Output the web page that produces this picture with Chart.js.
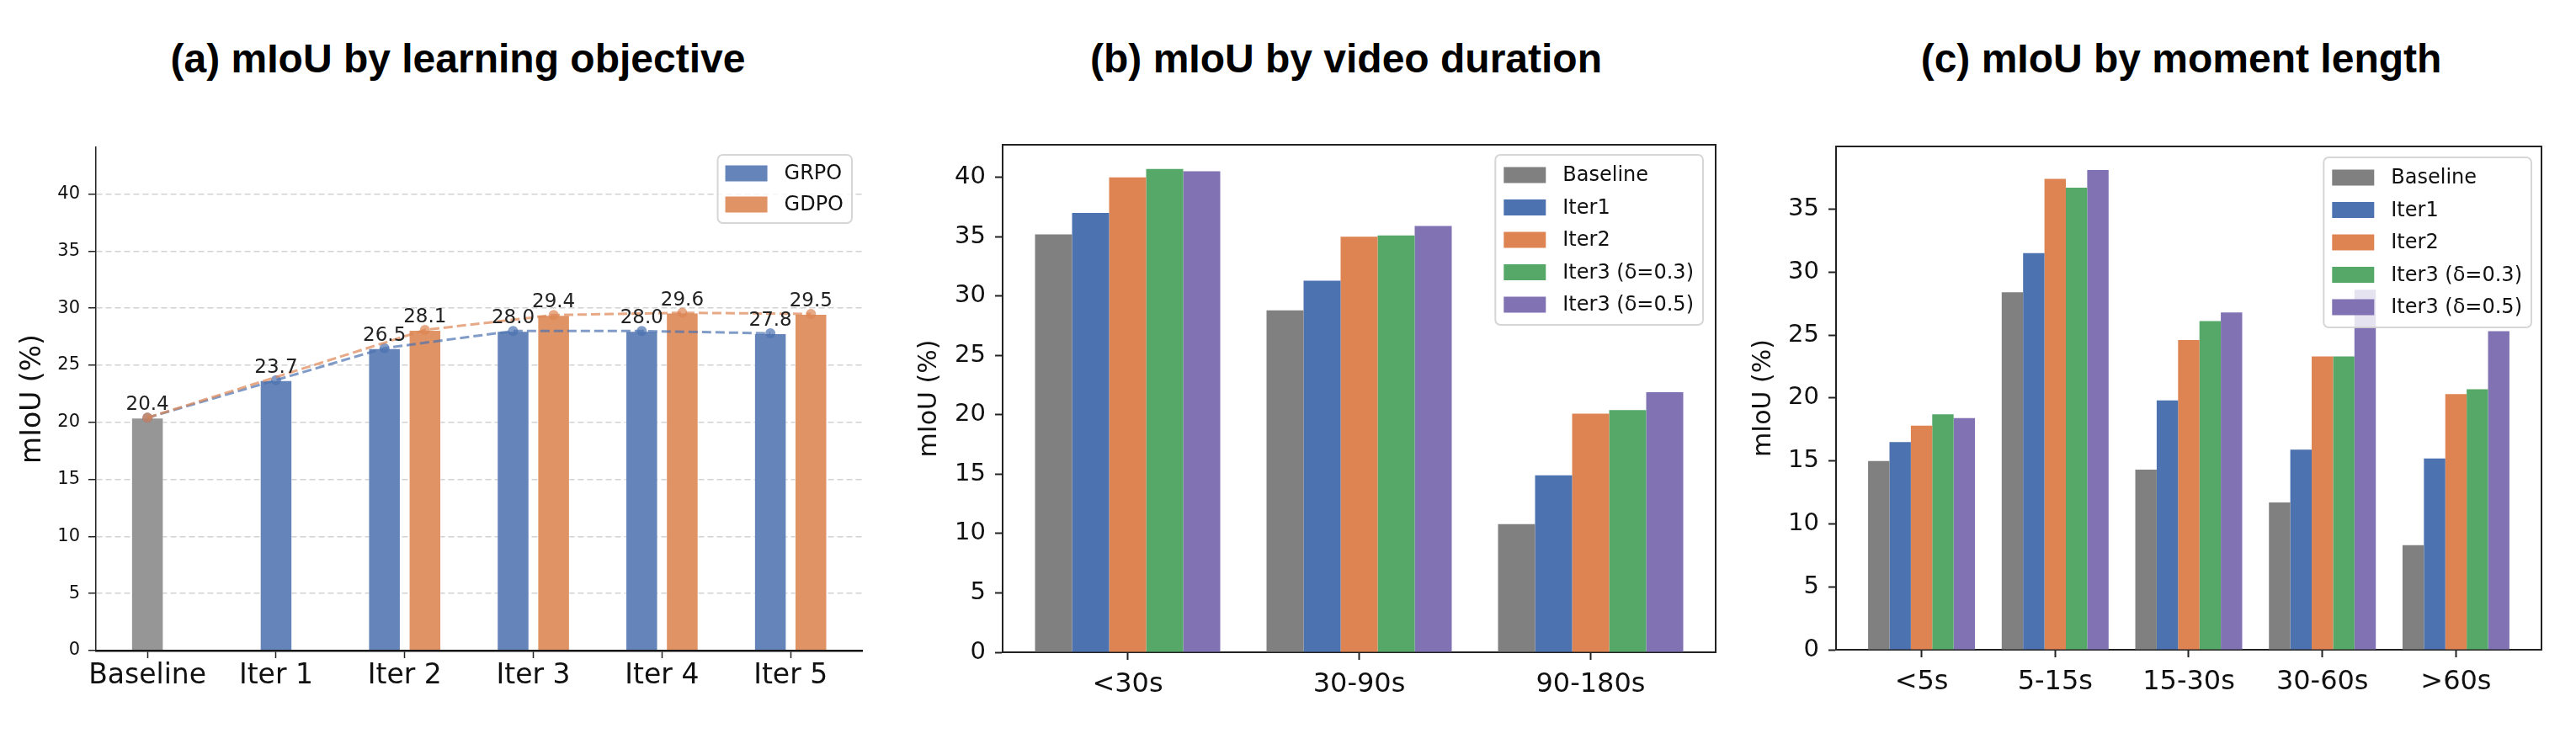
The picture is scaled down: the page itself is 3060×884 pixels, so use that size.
<!DOCTYPE html>
<html>
<head>
<meta charset="utf-8">
<title>mIoU panels</title>
<script src="https://cdn.jsdelivr.net/npm/chart.js@4.4.0/dist/chart.umd.min.js"></script>
<style>
  html, body { margin: 0; padding: 0; background: #fff; }
  body { width: 3060px; height: 884px; position: relative; overflow: hidden; }
  canvas { position: absolute; top: 0; }
  .panel-title {
    position: absolute; top: 46px; width: 900px; text-align: center;
    font: bold 48px "Liberation Sans", Arial, sans-serif; line-height: 48px;
    color: #000; white-space: nowrap;
  }
</style>
</head>
<body>
<div class="panel-title" style="left:94px">(a) mIoU by learning objective</div>
<div class="panel-title" style="left:1149px">(b) mIoU by video duration</div>
<div class="panel-title" style="left:2141px">(c) mIoU by moment length</div>
<canvas id="chart-objective" width="1040" height="884" style="left:0"></canvas>
<canvas id="chart-duration" width="1010" height="884" style="left:1050px"></canvas>
<canvas id="chart-moment" width="1000" height="884" style="left:2060px"></canvas>

<script>
// ===============================
// Data — (a) learning objective
// ===============================
const objectiveLabels = ["Baseline", "Iter 1", "Iter 2", "Iter 3", "Iter 4", "Iter 5"];
const baselineScore = [20.4, null, null, null, null, null];
const grpoScores = [null, 23.7, 26.5, 28.0, 28.0, 27.8];
const gdpoScores = [null, null, 28.1, 29.4, 29.6, 29.5];
const objectiveTicks = [0, 5, 10, 15, 20, 25, 30, 35, 40];

// ===============================
// Data — (b) video duration
// ===============================
const durationLabels = ["<30s", "30-90s", "90-180s"];
const durationBaseline = [35.2, 28.8, 10.8];
const durationIter1 = [37.0, 31.3, 14.9];
const durationIter2 = [40.0, 35.0, 20.1];
const durationIter3a = [40.7, 35.1, 20.4];
const durationIter3b = [40.5, 35.9, 21.9];
const durationTicks = [0, 5, 10, 15, 20, 25, 30, 35, 40];

// ===============================
// Data — (c) moment length
// ===============================
const momentLabels = ["<5s", "5-15s", "15-30s", "30-60s", ">60s"];
const momentBaseline = [15.0, 28.4, 14.3, 11.7, 8.3];
const momentIter1 = [16.5, 31.5, 19.8, 15.9, 15.2];
const momentIter2 = [17.8, 37.4, 24.6, 23.3, 20.3];
const momentIter3a = [18.7, 36.7, 26.1, 23.3, 20.7];
const momentIter3b = [18.4, 38.1, 26.8, 28.6, 25.3];
const momentTicks = [0, 5, 10, 15, 20, 25, 30, 35];

const seriesNames = ["Baseline", "Iter1", "Iter2", "Iter3 (δ=0.3)", "Iter3 (δ=0.5)"];
const seriesColors = ["#808080", "#4c72b0", "#dd8452", "#55a868", "#8172b3"];

// share of a category used by the GRPO/GDPO pair in (a)
const PAIR_GROUP = 0.63;
// share of a category used by the 5 grouped bars in (b) and (c)
const GROUP_SPAN = 0.8;

Chart.defaults.font.family = "'DejaVu Sans', sans-serif";
Chart.defaults.color = "#111";

// ===============================
// Plugins
// ===============================

// value text above every bar (panel a)
const valueLabels = {
  id: "valueLabels",
  afterDatasetsDraw(chart, args, opts) {
    const { ctx } = chart;
    ctx.save();
    ctx.font = `${opts.size}px 'DejaVu Sans'`;
    ctx.fillStyle = "#222";
    ctx.textAlign = "center";
    ctx.textBaseline = "alphabetic";
    chart.data.datasets.forEach((ds, i) => {
      if (!ds.showValues) return;
      const meta = chart.getDatasetMeta(i);
      meta.data.forEach((el, j) => {
        const v = ds.data[j];
        if (v == null) return;
        ctx.fillText(v.toFixed(1), el.x, el.y - opts.lift);
      });
    });
    ctx.restore();
  }
};

// matplotlib-like framed legend in the upper right corner
const boxLegend = {
  id: "boxLegend",
  afterDraw(chart, args, opts) {
    const { ctx, chartArea } = chart;
    const items = chart.data.datasets.filter(ds => ds.type !== "line" && ds.inLegend !== false);
    ctx.save();
    ctx.font = `${opts.size}px 'DejaVu Sans'`;
    const textW = Math.max(...items.map(ds => ctx.measureText(ds.label).width));
    const w = opts.padX + opts.swatchW + opts.gap + textW + opts.padRight;
    const h = opts.padY * 2 + items.length * opts.rowH;
    const x = chartArea.right - opts.inset[0] - w;
    const y = chartArea.top + opts.inset[1];

    ctx.beginPath();
    if (ctx.roundRect) ctx.roundRect(x, y, w, h, 6);
    else ctx.rect(x, y, w, h);
    ctx.fillStyle = "rgba(255,255,255,0.8)";
    ctx.fill();
    ctx.lineWidth = 2;
    ctx.strokeStyle = "rgba(210,210,210,0.9)";
    ctx.stroke();

    ctx.textAlign = "left";
    ctx.textBaseline = "middle";
    items.forEach((ds, i) => {
      const cy = y + opts.padY + opts.rowH * (i + 0.5);
      ctx.fillStyle = ds.backgroundColor;
      ctx.fillRect(x + opts.padX, cy - opts.swatchH / 2, opts.swatchW, opts.swatchH);
      ctx.fillStyle = "#111";
      ctx.fillText(ds.label, x + opts.padX + opts.swatchW + opts.gap, cy + 1);
    });
    ctx.restore();
  }
};

// top and right spines for (b) and (c)
const frameBox = {
  id: "frameBox",
  afterDraw(chart) {
    const { ctx, chartArea: a } = chart;
    ctx.save();
    ctx.strokeStyle = "#222";
    ctx.lineWidth = 2;
    ctx.beginPath();
    ctx.moveTo(a.left, a.top);
    ctx.lineTo(a.right, a.top);
    ctx.lineTo(a.right, a.bottom);
    ctx.stroke();
    ctx.restore();
  }
};

// matplotlib default 5% margin around bars spanning [-span/2, n-1+span/2]
function paddedRange(n, span) {
  const lo = -span / 2;
  const hi = n - 1 + span / 2;
  const m = 0.05 * (hi - lo);
  return [lo - m, hi + m];
}

const baseOptions = {
  responsive: false,
  animation: false,
  devicePixelRatio: 1,
  events: []
};

// ===============================
// (a) mIoU by learning objective
// ===============================
function buildObjectiveChart() {
  const shift = PAIR_GROUP / 4;
  const trend = (scores, side) => {
    const pts = [{ x: 0, y: baselineScore[0] }];
    scores.forEach((v, i) => {
      if (v == null) return;
      const paired = grpoScores[i] != null && gdpoScores[i] != null;
      pts.push({ x: i + (paired ? side * shift : 0), y: v });
    });
    return pts;
  };

  return new Chart(document.getElementById("chart-objective"), {
    type: "bar",
    data: {
      labels: objectiveLabels.map((_, i) => i),
      datasets: [
        { label: "Baseline", data: baselineScore, backgroundColor: "#969696", inLegend: false, showValues: true, order: 3 },
        { label: "GRPO", data: grpoScores, backgroundColor: "#6584b9", showValues: true, order: 3 },
        { label: "GDPO", data: gdpoScores, backgroundColor: "#e09365", showValues: true, order: 3 },
        {
          type: "line", label: "GRPO trend", data: trend(grpoScores, -1), order: 2,
          borderColor: "rgba(76,114,176,0.7)", borderWidth: 3, borderDash: [11, 5],
          pointRadius: 6, pointBorderWidth: 0, pointBackgroundColor: "rgba(76,114,176,0.7)",
          fill: false, tension: 0
        },
        {
          type: "line", label: "GDPO trend", data: trend(gdpoScores, 1), order: 1,
          borderColor: "rgba(221,132,82,0.7)", borderWidth: 3, borderDash: [11, 5],
          pointRadius: 6, pointBorderWidth: 0, pointBackgroundColor: "rgba(221,132,82,0.7)",
          fill: false, tension: 0
        }
      ]
    },
    options: {
      ...baseOptions,
      layout: { padding: { top: 175, right: 16, left: 0, bottom: 0 } },
      datasets: {
        bar: {
          categoryPercentage: PAIR_GROUP, barPercentage: 0.8, maxBarThickness: 38.5,
          skipNull: true, borderWidth: 1, borderColor: "rgba(255,255,255,0.5)", borderSkipped: "bottom"
        }
      },
      scales: {
        x: {
          type: "linear", min: -0.4, max: 5.555, offset: false, z: 1,
          afterBuildTicks: s => { s.ticks = objectiveLabels.map((_, i) => ({ value: i })); },
          afterFit: s => { s.height = 111; },
          ticks: { callback: v => objectiveLabels[v], font: { size: 33 }, padding: 2, autoSkip: false, maxRotation: 0 },
          grid: { offset: false, drawOnChartArea: false, drawTicks: true, tickLength: 9, tickWidth: 1.5, tickColor: "#222", color: "#222" },
          border: { display: true, color: "#111", width: 2.5 }
        },
        y: {
          min: 0, max: 44.1,
          afterBuildTicks: s => { s.ticks = objectiveTicks.map(v => ({ value: v })); },
          afterFit: s => { s.width = 114; },
          ticks: { font: { size: 21 }, padding: 10 },
          grid: { color: "#d2d2d2", lineWidth: 1.5, tickLength: 9, tickWidth: 1.5, tickColor: "#222", tickBorderDash: [] },
          border: { display: true, color: "#222", width: 1.5, dash: [7, 4] },
          title: { display: true, text: "mIoU (%)", font: { size: 33 }, padding: { top: 20, bottom: 0 } }
        }
      },
      plugins: {
        legend: { display: false },
        tooltip: { enabled: false },
        valueLabels: { size: 23, lift: 9 },
        boxLegend: { size: 24, inset: [12, 9], padX: 9, padRight: 10, padY: 3.5, rowH: 37, swatchW: 50, swatchH: 19, gap: 20 }
      }
    },
    plugins: [valueLabels, boxLegend]
  });
}

// ===============================
// (b) and (c): five grouped series
// ===============================
function buildGroupedChart(canvasId, categories, series, cfg) {
  const [xMin, xMax] = paddedRange(categories.length, GROUP_SPAN);
  return new Chart(document.getElementById(canvasId), {
    type: "bar",
    data: {
      labels: categories.map((_, i) => i),
      datasets: series.map((values, k) => ({
        label: seriesNames[k], data: values, backgroundColor: seriesColors[k], borderWidth: 0
      }))
    },
    options: {
      ...baseOptions,
      layout: { padding: { top: cfg.top, right: cfg.right, left: 0, bottom: 0 } },
      datasets: { bar: { categoryPercentage: GROUP_SPAN, barPercentage: 1 } },
      scales: {
        x: {
          type: "linear", min: xMin, max: xMax, offset: false, z: 1,
          afterBuildTicks: s => { s.ticks = categories.map((_, i) => ({ value: i })); },
          afterFit: s => { s.height = cfg.xHeight; },
          ticks: { callback: v => categories[v], font: { size: 32 }, padding: 10, autoSkip: false, maxRotation: 0 },
          grid: { offset: false, drawOnChartArea: false, drawTicks: true, tickLength: 9, tickWidth: 2, tickColor: "#222", color: "#222" },
          border: { display: true, color: "#222", width: 2 }
        },
        y: {
          min: 0, max: cfg.yMax,
          afterBuildTicks: s => { s.ticks = cfg.yTicks.map(v => ({ value: v })); },
          afterFit: s => { s.width = cfg.yWidth; },
          ticks: { font: { size: 29 }, padding: 11 },
          grid: { drawOnChartArea: false, drawTicks: true, tickLength: 9, tickWidth: 2, tickColor: "#222", color: "#222" },
          border: { display: true, color: "#222", width: 2 },
          title: { display: true, text: "mIoU (%)", font: { size: 30 }, padding: { top: cfg.titlePad, bottom: 0 } }
        }
      },
      plugins: {
        legend: { display: false },
        tooltip: { enabled: false },
        boxLegend: { size: 24, inset: cfg.legendInset, padX: 10, padRight: 11, padY: 4.75, rowH: 38.5, swatchW: 50, swatchH: 19, gap: 20 }
      }
    },
    plugins: [frameBox, boxLegend]
  });
}

document.addEventListener("DOMContentLoaded", () => {
  buildObjectiveChart();

  buildGroupedChart("chart-duration", durationLabels,
    [durationBaseline, durationIter1, durationIter2, durationIter3a, durationIter3b],
    { top: 172, right: 22, xHeight: 109, yWidth: 141, yMax: 42.74, yTicks: durationTicks, titlePad: 36, legendInset: [15, 12] });

  buildGroupedChart("chart-moment", momentLabels,
    [momentBaseline, momentIter1, momentIter2, momentIter3a, momentIter3b],
    { top: 174, right: 41, xHeight: 112, yWidth: 121, yMax: 39.98, yTicks: momentTicks, titlePad: 17, legendInset: [12, 13] });
});
</script>
</body>
</html>
